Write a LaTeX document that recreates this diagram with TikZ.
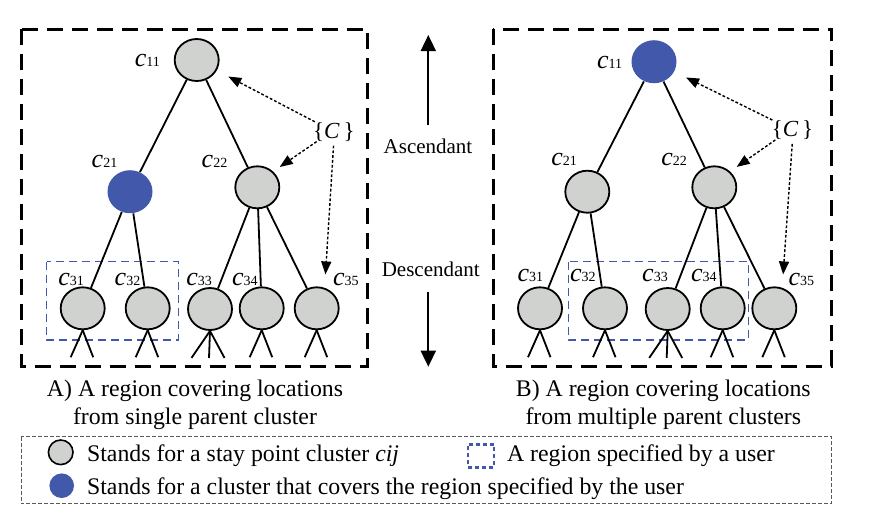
\documentclass[tikz,border=0pt]{standalone}
\usepackage{fontspec}
\setmainfont{Liberation Serif}
\usetikzlibrary{arrows.meta,shapes.geometric}
\definecolor{nodegray}{RGB}{208,210,208}
\definecolor{clblue}{RGB}{66,88,170}
\newcommand\clab[1]{{\fontsize{13}{14}\selectfont\itshape c}{\fontsize{7}{8}\selectfont #1}}
\newcommand\setC{{\fontsize{11.5}{13}\selectfont\{\textit{C}\,\}}}
\begin{document}
\begin{tikzpicture}[x=0.5pt,y=-0.5pt,
  cl/.style={ellipse,draw=black,line width=0.9pt,fill=nodegray,minimum width=22pt,minimum height=21pt,inner sep=0pt},
  clb/.style={ellipse,fill=clblue,minimum width=22.5pt,minimum height=21.5pt,inner sep=0pt},
  lbl/.style={inner sep=0pt},
  edge/.style={line width=0.9pt},
  leg/.style={line width=0.9pt},
  frame/.style={line width=1.5pt,dash pattern=on 8pt off 4.5pt},
  region/.style={draw=clblue,line width=0.7pt,dash pattern=on 4pt off 2.5pt},
  darr/.style={line width=0.7pt,dash pattern=on 1.4pt off 1pt,-{Triangle[length=6.5pt,width=5pt]}},
  marr/.style={line width=0.9pt,-{Triangle[length=8pt,width=7.5pt]}},
  txt/.style={inner sep=0pt,font=\fontsize{11.9}{14}\selectfont},
  mid/.style={inner sep=0pt,font=\fontsize{10.5}{12}\selectfont}
]
\useasboundingbox (0,0) rectangle (871,516);

% ---------- left panel ----------
\draw[frame] (21.7,29) rectangle (367.7,366);
\draw[region] (46.7,261.7) rectangle (178.3,340);

\node[cl]  (a11) at (196.7,60) {};
\node[clb] (a21) at (130,191.7) {};
\node[cl]  (a22) at (257.3,187.3) {};
\node[cl]  (a31) at (82.7,308.3) {};
\node[cl]  (a32) at (147.7,308.3) {};
\node[cl]  (a33) at (210,309) {};
\node[cl]  (a34) at (261.7,308.3) {};
\node[cl]  (a35) at (316.7,308.3) {};

\draw[edge] (a11) -- (a21);
\draw[edge] (a11) -- (a22);
\draw[edge] (a21) -- (a31);
\draw[edge] (a21) -- (a32);
\draw[edge] (a22) -- (a33);
\draw[edge] (a22) -- (a34);
\draw[edge] (a22) -- (a35);

\foreach \n in {a31,a32,a34,a35}{
  \draw[leg] (\n.south) -- ++(-12,27);
  \draw[leg] (\n.south) -- ++(10.5,27);
}
\draw[leg] (a33.south) -- ++(-18.5,27);
\draw[leg] (a33.south) -- ++(-1,27);
\draw[leg] (a33.south) -- ++(14.5,27);

\node[lbl] (la11) at (147.3,60) {\clab{11}};
\node[lbl] (la21) at (104.5,161.7) {\clab{21}};
\node[lbl] (la22) at (214.5,161.7) {\clab{22}};
\node[lbl] (la31) at (71.2,279.3) {\clab{31}};
\node[lbl] (la32) at (127.5,279.3) {\clab{32}};
\node[lbl] (la33) at (199.2,279.3) {\clab{33}};
\node[lbl] (la34) at (244.8,279.3) {\clab{34}};
\node[lbl] (la35) at (345.8,279.3) {\clab{35}};

\node[lbl] (aC) at (333.8,131.7) {\setC};
\draw[darr,shorten >=6.5pt] (aC) -- (a11);
\draw[darr,shorten >=4pt] (aC.210) -- (a22.45);
\draw[darr,shorten <=2pt,shorten >=6pt] (aC.south) -- ([xshift=4pt]a35.north);

% ---------- right panel ----------
\draw[frame] (493.3,29) rectangle (831.7,366);
\draw[region] (568.3,261.7) rectangle (748.3,340);

\node[clb] (b11) at (654,61.7) {};
\node[cl]  (b21) at (587.3,191.7) {};
\node[cl]  (b22) at (714.3,187.3) {};
\node[cl]  (b31) at (540,308.3) {};
\node[cl]  (b32) at (605,308.3) {};
\node[cl]  (b33) at (667.7,309) {};
\node[cl]  (b34) at (722.7,308.3) {};
\node[cl]  (b35) at (774.3,308.3) {};

\draw[edge] (b11) -- (b21);
\draw[edge] (b11) -- (b22);
\draw[edge] (b21) -- (b31);
\draw[edge] (b21) -- (b32);
\draw[edge] (b22) -- (b33);
\draw[edge] (b22) -- (b34);
\draw[edge] (b22) -- (b35);

\foreach \n in {b31,b32,b34,b35}{
  \draw[leg] (\n.south) -- ++(-12,27);
  \draw[leg] (\n.south) -- ++(10.5,27);
}
\draw[leg] (b33.south) -- ++(-18.5,27);
\draw[leg] (b33.south) -- ++(-1,27);
\draw[leg] (b33.south) -- ++(14.5,27);

\node[lbl] (lb11) at (609.5,62.7) {\clab{11}};
\node[lbl] (lb21) at (564.2,159) {\clab{21}};
\node[lbl] (lb22) at (674.2,159) {\clab{22}};
\node[lbl] (lb31) at (530.3,275) {\clab{31}};
\node[lbl] (lb32) at (582.8,275) {\clab{32}};
\node[lbl] (lb33) at (655,275) {\clab{33}};
\node[lbl] (lb34) at (703.8,275) {\clab{34}};
\node[lbl] (lb35) at (801.3,279.3) {\clab{35}};

\node[lbl] (bC) at (792.5,130) {\setC};
\draw[darr,shorten >=6.5pt] (bC) -- (b11);
\draw[darr,shorten >=4pt] (bC.210) -- (b22.45);
\draw[darr,shorten <=2pt,shorten >=6pt] (bC.south) -- ([xshift=4pt]b35.north);

% ---------- middle ----------
\node[mid] (asc) at (428,146.7) {Ascendant};
\node[mid] (desc) at (430.8,269.3) {Descendant};
\coordinate (upTop) at (428.3,35);
\coordinate (downEnd) at (428.3,366.7);
\draw[marr] (upTop |- 0,125) -- (upTop);
\draw[marr] (downEnd |- 0,291.7) -- (downEnd);

% ---------- captions ----------
\node[txt,anchor=base] (capA1) at (195,396) {A) A region covering locations};
\node[txt,anchor=base] (capA2) at (195,424) {from single parent cluster};
\node[txt,anchor=base] (capB1) at (663.3,396) {B) A region covering locations};
\node[txt,anchor=base] (capB2) at (663.3,424) {from multiple parent clusters};

% ---------- legend ----------
\draw[draw=black!65,line width=0.5pt,dash pattern=on 2pt off 1pt] (21,436.7) rectangle (831.7,503.3);
\node[ellipse,draw=black,line width=0.8pt,fill=nodegray,minimum width=12.3pt,minimum height=12.3pt,inner sep=0pt] (lg1) at (60.7,452.3) {};
\node[ellipse,fill=clblue,minimum width=12.3pt,minimum height=12.3pt,inner sep=0pt] (lg2) at (61.7,485.7) {};
\node[txt,anchor=base west] (lt1) at (86.7,461.7) {Stands for a stay point cluster \textit{cij}};
\node[txt,anchor=base west] (lt2) at (86.7,494) {Stands for a cluster that covers the region specified by the user};
\node[draw=clblue,line width=1.3pt,dash pattern=on 2pt off 1.5pt,minimum width=13pt,minimum height=11.5pt,inner sep=0pt] (lg3) at (480.8,455.8) {};
\node[txt,anchor=base west] (lt3) at (506.7,461.7) {A region specified by a user};
\end{tikzpicture}
\end{document}
